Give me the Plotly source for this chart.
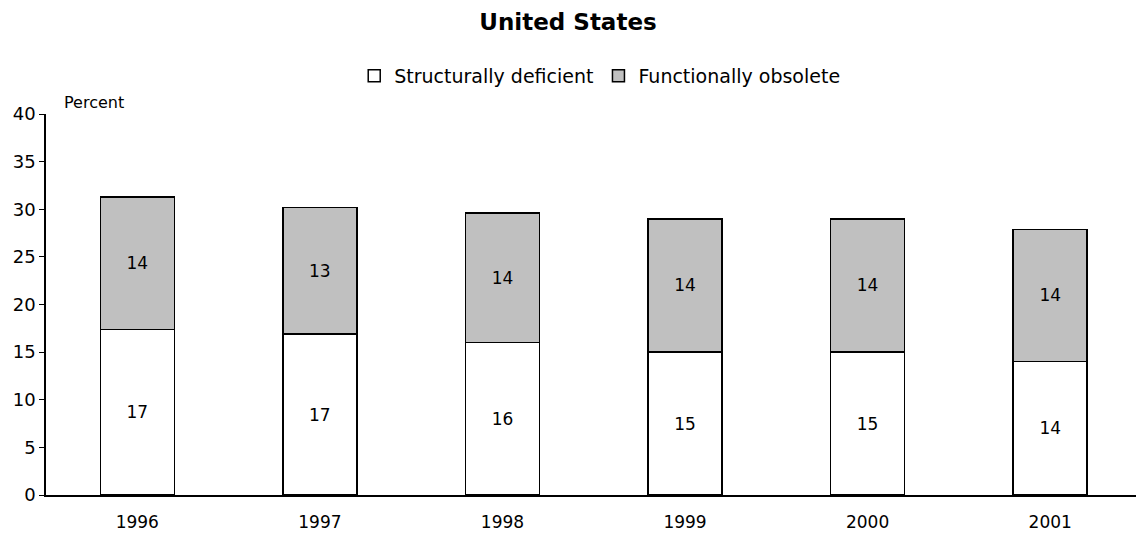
import plotly.graph_objects as go

years = ["1996", "1997", "1998", "1999", "2000", "2001"]
structurally_deficient = [17.4, 16.9, 16.0, 15.0, 15.0, 14.0]
functionally_obsolete = [13.9, 13.3, 13.6, 14.0, 14.0, 13.9]
y_ticks = [0, 5, 10, 15, 20, 25, 30, 35, 40]

FONT = "DejaVu Sans, sans-serif"

fig = go.Figure()
fig.add_trace(go.Bar(
    x=years, y=structurally_deficient, name="Structurally deficient",
    marker=dict(color="white", line=dict(color="black", width=1.5)),
    width=0.405, texttemplate="%{y:.0f}", textposition="inside",
    insidetextanchor="middle", textfont=dict(size=17, color="black", family=FONT),
))
fig.add_trace(go.Bar(
    x=years, y=functionally_obsolete, name="Functionally obsolete",
    marker=dict(color="#c0c0c0", line=dict(color="black", width=1.5)),
    width=0.405, texttemplate="%{y:.0f}", textposition="inside",
    insidetextanchor="middle", textfont=dict(size=17, color="black", family=FONT),
))

fig.update_layout(
    barmode="stack",
    width=1136, height=537,
    margin=dict(l=46, r=0, t=114, b=42),
    paper_bgcolor="white", plot_bgcolor="white",
    font=dict(family=FONT, size=16, color="black"),
    title=dict(text="<b>United States</b>", x=0.5, xanchor="center",
               y=0.959, yanchor="middle", font=dict(size=23, family=FONT)),
    legend=dict(orientation="h", x=0.508, xanchor="center", y=1.10, yanchor="middle",
                font=dict(size=19, family=FONT), itemwidth=30, traceorder="normal"),
    showlegend=True,
    annotations=[dict(text="Percent", xref="paper", yref="paper", x=0.015, y=1.0,
                      xanchor="left", yanchor="bottom", showarrow=False,
                      font=dict(size=16, family=FONT))],
)
fig.update_xaxes(range=[-0.5, 5.47], showline=True, linecolor="black", linewidth=1.5,
                 ticks="", showgrid=False, ticklabelstandoff=11,
                 tickfont=dict(size=17, family=FONT))
fig.update_yaxes(range=[0, 40], tickvals=y_ticks, showline=True, linecolor="black",
                 linewidth=1.5, ticks="outside", ticklen=5, tickcolor="black",
                 showgrid=False, zeroline=False, tickfont=dict(size=18, family=FONT))

fig.write_html("out.html", config={"displayModeBar": False},
               post_script="document.body.style.margin='0px';")
